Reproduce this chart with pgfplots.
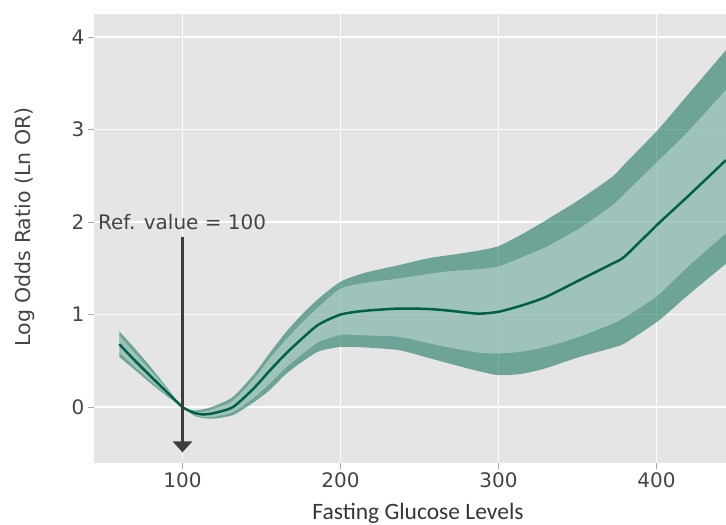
\documentclass[border=0pt]{standalone}
\usepackage{pgfplots}
\pgfplotsset{compat=1.18}
\usepackage{pgfplotstable}
\usepgfplotslibrary{fillbetween}
\usetikzlibrary{arrows.meta}
\usepackage{fontspec}
\setmainfont{DejaVu Sans}
\newfontfamily\calib{Carlito}
\definecolor{panel}{RGB}{229,229,229}
\definecolor{txt}{RGB}{68,68,68}
\definecolor{band}{RGB}{32,122,99}
\definecolor{linec}{RGB}{0,96,72}
\definecolor{tickc}{RGB}{165,165,165}

\pgfplotstableread{
x olo ilo mid ihi ohi
60 0.54 0.59 0.68 0.77 0.82
70 0.40 0.43 0.50 0.58 0.63
80 0.255 0.28 0.33 0.39 0.43
90 0.12 0.135 0.165 0.20 0.215
100 0 0 0 0 0
107 -0.09 -0.08 -0.06 -0.045 -0.035
113 -0.12 -0.11 -0.08 -0.05 -0.025
120 -0.125 -0.105 -0.065 -0.02 0.01
132 -0.086 -0.055 0.0 0.07 0.11
145 0.05 0.10 0.20 0.30 0.35
155 0.18 0.25 0.39 0.52 0.58
165 0.35 0.42 0.57 0.72 0.80
175 0.48 0.56 0.73 0.90 0.99
186 0.60 0.70 0.89 1.08 1.17
200 0.65 0.78 1.00 1.28 1.355
215 0.645 0.775 1.04 1.34 1.45
237 0.615 0.76 1.065 1.39 1.535
256 0.53 0.69 1.06 1.44 1.61
270 0.465 0.64 1.04 1.47 1.645
287 0.39 0.59 1.01 1.49 1.69
300 0.345 0.58 1.03 1.52 1.74
315 0.36 0.60 1.10 1.62 1.87
330 0.42 0.65 1.19 1.73 2.02
351 0.54 0.76 1.37 1.93 2.24
372 0.64 0.90 1.55 2.18 2.49
380 0.69 0.97 1.63 2.31 2.63
401 0.93 1.21 1.98 2.66 3.00
420 1.21 1.52 2.28 2.98 3.38
444 1.55 1.88 2.67 3.43 3.86
}\spl

\begin{document}
\begin{tikzpicture}
\begin{axis}[
  at={(94pt,62pt)}, anchor=south west,
  scale only axis, width=632pt, height=449pt,
  xmin=44, xmax=444, ymin=-0.605, ymax=4.25,
  axis background/.style={fill=panel},
  axis line style={draw=none},
  grid=major, grid style={white, line width=1.6pt},
  xtick={100,200,300,400}, ytick={0,1,2,3,4},
  xtick pos=bottom, ytick pos=left,
  tick align=outside, major tick length=6pt,
  tick style={tickc, line width=1pt},
  ticklabel style={font=\fontsize{20}{24}\selectfont, text=txt},
  /pgf/number format/assume math mode=true,
]
\addplot[name path=ohi, draw=none, smooth, tension=0.4] table[x=x,y=ohi]{\spl};
\addplot[name path=olo, draw=none, smooth, tension=0.4] table[x=x,y=olo]{\spl};
\addplot[band, fill opacity=0.6, draw=none] fill between[of=ohi and olo];
\addplot[name path=ihi, draw=none, smooth, tension=0.4] table[x=x,y=ihi]{\spl};
\addplot[name path=ilo, draw=none, smooth, tension=0.4] table[x=x,y=ilo]{\spl};
\addplot[white, fill opacity=0.34, draw=none] fill between[of=ihi and ilo];
\addplot[linec, line width=2.5pt, smooth, tension=0.4] table[x=x,y=mid]{\spl};
\draw[txt!90!black, line width=3pt, -{Triangle[width=19pt,length=11pt]}] (axis cs:100,1.84) -- (axis cs:100,-0.49);
\node[anchor=west, text=txt, font=\fontsize{20}{24}\selectfont, inner sep=0pt] at (axis cs:46.5,2) {Ref. value = 100};
\end{axis}
\node[rotate=90, text=txt, font=\fontsize{20.5}{24}\selectfont] at (25pt,298pt) {Log Odds Ratio (Ln OR)};
\node[anchor=base, text=txt!80!black, font=\calib\fontsize{23.5}{27}\selectfont, inner sep=0pt] at (418pt,5.5pt) {Fasting Glucose Levels};
\pgfresetboundingbox
\useasboundingbox (0pt,0pt) rectangle (726pt,525pt);
\end{tikzpicture}
\end{document}
